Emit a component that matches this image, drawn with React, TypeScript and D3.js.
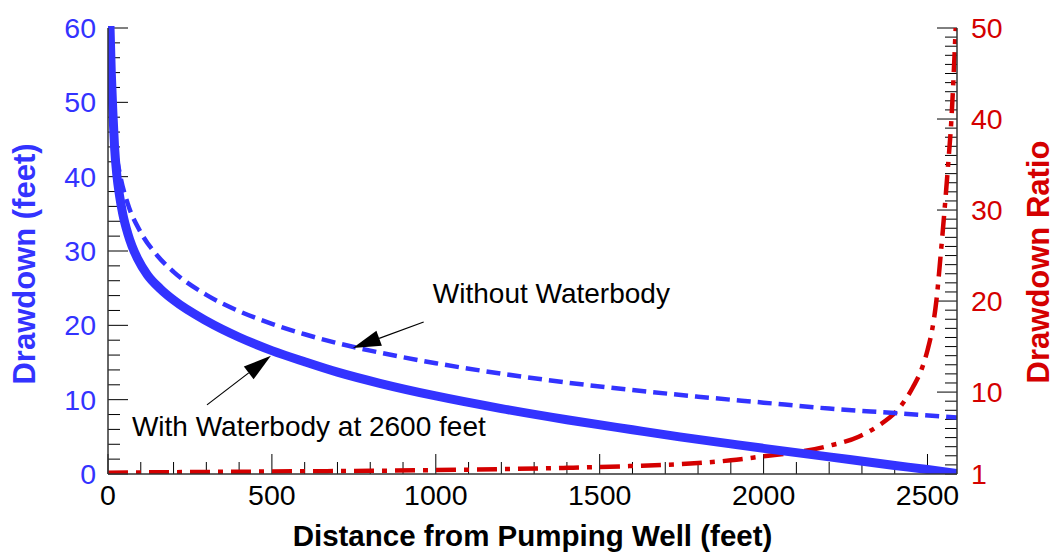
import React from 'react';
import * as d3 from 'd3';

// distance from pumping well (feet)
const withDist = [5, 10, 15, 20, 27, 35, 45, 60, 73, 90, 120, 160, 200, 300, 400, 500, 600, 700, 829, 1000, 1200, 1400, 1600, 1744, 1900, 2000, 2200, 2400, 2500, 2590];
const withDrawdown = [62, 54, 48.5, 44, 40.2, 37.5, 35, 32.4, 30.7, 29, 26.8, 24.9, 23.4, 20.6, 18.4, 16.6, 15.1, 13.7, 12.2, 10.5, 8.8, 7.3, 5.95, 5.0, 4.05, 3.45, 2.3, 1.15, 0.6, 0.05];

const withoutDist = [3, 5, 10, 20, 38, 60, 100, 150, 200, 300, 400, 500, 600, 700, 800, 1000, 1200, 1400, 1600, 1800, 2000, 2200, 2400, 2590];
const withoutDrawdown = [59.4, 55.5, 50.2, 44.9, 40, 36.4, 32.5, 29.4, 27.2, 24.1, 21.9, 20.2, 18.8, 17.6, 16.6, 14.9, 13.5, 12.3, 11.3, 10.4, 9.6, 8.8, 8.2, 7.6];

const ratioDist = [0, 200, 400, 600, 800, 1000, 1200, 1400, 1600, 1800, 1900, 2000, 2100, 2200, 2290, 2350, 2415, 2455, 2485, 2500, 2515, 2527, 2540, 2552, 2563, 2573, 2580, 2586];
const ratioValues = [1.15, 1.2, 1.25, 1.3, 1.35, 1.43, 1.53, 1.68, 1.88, 2.2, 2.5, 2.95, 3.4, 4.1, 5.1, 6.3, 8.3, 10.5, 12.8, 14.6, 17, 20, 25, 30, 35, 40, 45, 50];

const xTickLabels = [0, 500, 1000, 1500, 2000, 2500];
const leftTickLabels = [0, 10, 20, 30, 40, 50, 60];
const rightTickLabels = [1, 10, 20, 30, 40, 50];

const BLUE = '#3333ff';
const RED = '#d40000';
const FONT = "Arial, 'Liberation Sans', sans-serif";

export default function App() {
  const W = 1056, H = 552;
  const left = 108, right = 957, top = 28, bottom = 474;

  const x = d3.scaleLinear().domain([0, 2590]).range([left, right]);
  const yL = d3.scaleLinear().domain([0, 60]).range([bottom, top]);
  const yR = d3.scaleLinear().domain([1, 50]).range([bottom, top]);

  const lineL = d3.line<[number, number]>()
    .x(d => x(d[0])).y(d => yL(d[1]))
    .curve(d3.curveMonotoneX);
  const lineR = d3.line<[number, number]>()
    .x(d => x(d[0])).y(d => yR(d[1]))
    .curve(d3.curveMonotoneX);

  const withPts = withDist.map((d, i) => [d, withDrawdown[i]] as [number, number]);
  const withoutPts = withoutDist.map((d, i) => [d, withoutDrawdown[i]] as [number, number]);
  const ratioPts = ratioDist.map((d, i) => [d, ratioValues[i]] as [number, number]);

  // arrow in data coordinates: tail -> tip
  const arrow = (tail: [number, number], tip: [number, number], key: string) => {
    const x1 = x(tail[0]), y1 = yL(tail[1]), x2 = x(tip[0]), y2 = yL(tip[1]);
    const len = Math.hypot(x2 - x1, y2 - y1);
    const ux = (x2 - x1) / len, uy = (y2 - y1) / len;
    const hl = 28, hw = 8;
    const bx = x2 - ux * hl, by = y2 - uy * hl;
    const pts = [[x2, y2], [bx - uy * hw, by + ux * hw], [bx + uy * hw, by - ux * hw]];
    return (
      <g key={key}>
        <line x1={x1} y1={y1} x2={bx} y2={by} stroke="#000" strokeWidth={1.2} />
        <polygon points={pts.map(p => p.join(',')).join(' ')} fill="#000" />
      </g>
    );
  };

  return (
    <svg width={W} height={H} style={{ position: 'absolute', left: 0, top: 0, background: '#fff' }} fontFamily={FONT}>
      <defs>
        <clipPath id="plot">
          <rect x={left} y={top - 2} width={right - left} height={bottom - top + 2} />
        </clipPath>
      </defs>

      {/* bottom ticks */}
      {d3.range(0, 2590, 100).map(v => (
        <line key={'xt' + v} x1={x(v)} x2={x(v)} y1={bottom} y2={bottom - (v % 500 === 0 ? 20 : 12)} stroke="#000" strokeWidth={1} />
      ))}
      {/* left ticks */}
      {d3.range(0, 61, 2).map(v => (
        <line key={'yl' + v} x1={left} x2={left + (v % 10 === 0 ? 20 : 12)} y1={yL(v)} y2={yL(v)} stroke="#000" strokeWidth={1} />
      ))}
      {/* right ticks */}
      {d3.range(1, 51, 1).map(v => (
        <line key={'yr' + v} x1={right} x2={right - (v % 10 === 0 ? 20 : 12)} y1={yR(v)} y2={yR(v)} stroke="#000" strokeWidth={1} />
      ))}

      <g clipPath="url(#plot)" fill="none">
        <path d={lineR(ratioPts) || ''} stroke={RED} strokeWidth={4.5} strokeDasharray="20 8 5 8" />
        <path d={lineL(withoutPts) || ''} stroke={BLUE} strokeWidth={4.5} strokeDasharray="14 7" />
        <path d={lineL(withPts) || ''} stroke={BLUE} strokeWidth={9} />
      </g>

      {/* axis lines */}
      <line x1={left} x2={left} y1={top} y2={bottom} stroke="#333" strokeWidth={1.5} />
      <line x1={right} x2={right} y1={top} y2={bottom} stroke="#333" strokeWidth={1.5} />
      <line x1={left} x2={right} y1={bottom} y2={bottom} stroke="#333" strokeWidth={1.5} />

      {/* tick labels */}
      {xTickLabels.map(v => (
        <text key={'xl' + v} x={x(v)} y={505} fontSize={28.5} textAnchor="middle" fill="#000">{v}</text>
      ))}
      {leftTickLabels.map(v => (
        <text key={'ll' + v} x={96} y={yL(v)} dy="0.35em" fontSize={28.5} textAnchor="end" fill={BLUE}>{v}</text>
      ))}
      {rightTickLabels.map(v => (
        <text key={'rl' + v} x={971} y={yR(v)} dy="0.35em" fontSize={28.5} textAnchor="start" fill={RED}>{v}</text>
      ))}

      {/* axis titles */}
      <text x={(left + right) / 2} y={546} fontSize={29.5} fontWeight="bold" textAnchor="middle" fill="#000">
        Distance from Pumping Well (feet)
      </text>
      <text transform="translate(35,264) rotate(-90)" fontSize={31} fontWeight="bold" textAnchor="middle" fill={BLUE}>
        Drawdown (feet)
      </text>
      <text transform="translate(1049,262) rotate(-90)" fontSize={31} fontWeight="bold" textAnchor="middle" fill={RED}>
        Drawdown Ratio
      </text>

      {/* annotations */}
      {arrow([963, 20.45], [747, 16.95], 'a1')}
      <text x={x(991)} y={yL(23.0)} fontSize={28} fill="#000">Without Waterbody</text>
      {arrow([302, 9.3], [497, 15.9], 'a2')}
      <text x={x(73)} y={yL(5.1)} fontSize={28} fill="#000">With Waterbody at 2600 feet</text>
    </svg>
  );
}
